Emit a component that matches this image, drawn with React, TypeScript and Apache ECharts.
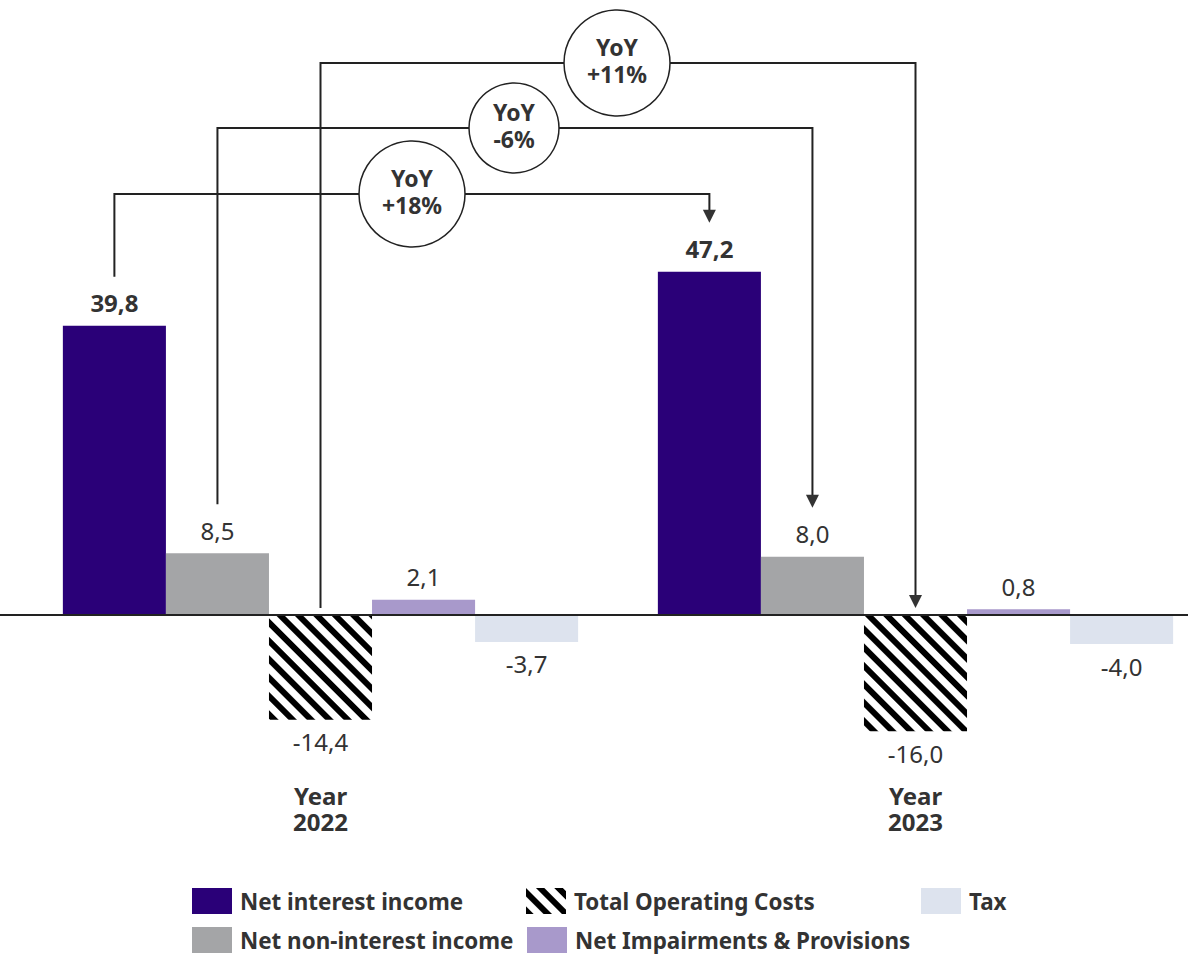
import React, { useEffect, useRef } from 'react';
import * as echarts from 'echarts';

// Financial bridge between two years, values in EUR bn
const categories = ['Year\n2022', 'Year\n2023'];
const netInterestIncome = [39.8, 47.2];
const netNonInterestIncome = [8.5, 8.0];
const totalOperatingCosts = [-14.4, -16.0];
const netImpairments = [2.1, 0.8];
const tax = [-3.7, -4.0];
const yoyLabels = ['YoY\n+18%', 'YoY\n-6%', 'YoY\n+11%'];

const FONT = '"Noto Sans", sans-serif';
const TEXT = '#333333';
const LINE = '#222222';

const fmt = (v: number) => v.toFixed(1).replace('.', ',');

export default function App() {
  const ref = useRef<HTMLDivElement>(null);

  useEffect(() => {
    const chart = echarts.init(ref.current!, null, { renderer: 'svg' });

    const label = (position: string, bold: boolean, distance: number) => ({
      show: true,
      position,
      distance,
      fontFamily: FONT,
      fontSize: 24,
      fontWeight: bold ? 'bold' : 'normal',
      color: TEXT,
      formatter: (p: any) => fmt(p.value as number),
    });

    const barBase = {
      type: 'bar',
      barGap: 0,
      barCategoryGap: '13.4%',
    };

    const legendBase = {
      itemWidth: 40,
      itemHeight: 26,
      padding: 0,
      icon: 'rect',
      selectedMode: false,
      textStyle: {
        fontFamily: FONT,
        fontWeight: 'bold',
        fontSize: 22.4,
        lineHeight: 24,
        color: TEXT,
        padding: [0, 0, 0, 3],
      },
    };

    chart.setOption({
      animation: false,
      grid: {
        left: 23,
        width: 1190,
        top: 178.8,
        bottom: 193.6,
        containLabel: false,
        outerBoundsMode: 'none',
      },
      xAxis: {
        type: 'category',
        data: categories,
        axisLine: { show: false, onZero: false },
        axisTick: { show: false },
        axisLabel: {
          margin: 22,
          fontFamily: FONT,
          fontWeight: 'bold',
          fontSize: 24,
          lineHeight: 26,
          color: TEXT,
        },
      },
      yAxis: {
        type: 'value',
        min: -20,
        max: 60,
        show: false,
        splitLine: { show: false },
      },
      legend: [
        { ...legendBase, data: ['Net interest income'], left: 192, top: 888 },
        { ...legendBase, data: ['Total Operating Costs'], left: 526, top: 888 },
        { ...legendBase, data: ['Tax'], left: 921, top: 888 },
        { ...legendBase, data: ['Net non-interest income'], left: 192, top: 927 },
        { ...legendBase, data: ['Net Impairments & Provisions'], left: 527, top: 927 },
      ],
      series: [
        {
          ...barBase,
          name: 'Net interest income',
          data: netInterestIncome,
          itemStyle: { color: '#2a0078' },
          label: label('top', true, 11),
        },
        {
          ...barBase,
          name: 'Net non-interest income',
          data: netNonInterestIncome,
          itemStyle: { color: '#a4a5a7' },
          label: label('top', false, 11),
        },
        {
          ...barBase,
          name: 'Total Operating Costs',
          data: totalOperatingCosts,
          itemStyle: {
            color: '#ffffff',
            decal: {
              symbol: 'rect',
              symbolSize: 1,
              dashArrayX: [1, 0],
              dashArrayY: [5.5, 7],
              rotation: Math.PI / 4,
              color: '#000000',
              backgroundColor: '#ffffff',
            },
          },
          label: label('bottom', false, 10),
        },
        {
          ...barBase,
          name: 'Net Impairments & Provisions',
          data: netImpairments,
          itemStyle: { color: '#a899cb' },
          label: label('top', false, 11),
        },
        {
          ...barBase,
          name: 'Tax',
          data: tax,
          itemStyle: { color: '#dde3ee' },
          label: label('bottom', false, 10),
        },
      ],
    });

    // Connectors between the same component in both years
    const model: any = (chart as any).getModel();
    const zeroY = chart.convertToPixel({ yAxisIndex: 0 }, 0) as number;
    const anchor = (seriesIndex: number, dataIndex: number) => {
      const data = model.getSeriesByIndex(seriesIndex).getData();
      const lay = data.getItemLayout(dataIndex);
      const value = data.get(data.mapDimension('y'), dataIndex) as number;
      const x = lay.x + lay.width / 2;
      const top = Math.min(lay.y, lay.y + lay.height);
      const y = value >= 0 ? top - 49 : zeroY - 7;
      return [x, y];
    };

    const connectors = [
      { series: 0, levelY: 194, circleX: 412, r: 53, text: yoyLabels[0] },
      { series: 1, levelY: 128, circleX: 514, r: 45, text: yoyLabels[1] },
      { series: 2, levelY: 63, circleX: 617, r: 53, text: yoyLabels[2] },
    ];

    const graphics: any[] = [
      {
        type: 'line',
        z: 50,
        shape: { x1: 0, y1: zeroY, x2: 1188, y2: zeroY },
        style: { stroke: LINE, lineWidth: 2 },
      },
    ];

    connectors.forEach((c) => {
      const [sx, sy] = anchor(c.series, 0);
      const [ex, ey] = anchor(c.series, 1);
      const arrowH = 13;
      graphics.push({
        type: 'polyline',
        z: 40,
        shape: {
          points: [
            [sx, sy],
            [sx, c.levelY],
            [ex, c.levelY],
            [ex, ey - arrowH + 1],
          ],
        },
        style: { stroke: LINE, lineWidth: 2, fill: null },
      });
      graphics.push({
        type: 'polygon',
        z: 41,
        shape: {
          points: [
            [ex - 6.5, ey - arrowH],
            [ex + 6.5, ey - arrowH],
            [ex, ey],
          ],
        },
        style: { fill: '#333333' },
      });
      graphics.push({
        type: 'circle',
        z: 60,
        shape: { cx: c.circleX, cy: c.levelY, r: c.r },
        style: { fill: '#ffffff', stroke: LINE, lineWidth: 1.5 },
      });
      graphics.push({
        type: 'text',
        z: 61,
        x: c.circleX,
        y: c.levelY - 3,
        style: {
          text: c.text,
          align: 'center',
          verticalAlign: 'middle',
          fontFamily: FONT,
          fontWeight: 'bold',
          fontSize: 23,
          lineHeight: 27,
          fill: TEXT,
        },
      });
    });

    chart.setOption({ graphic: graphics });

    return () => chart.dispose();
  }, []);

  return (
    <div
      ref={ref}
      style={{ position: 'absolute', left: 0, top: 0, width: 1188, height: 954 }}
    />
  );
}
